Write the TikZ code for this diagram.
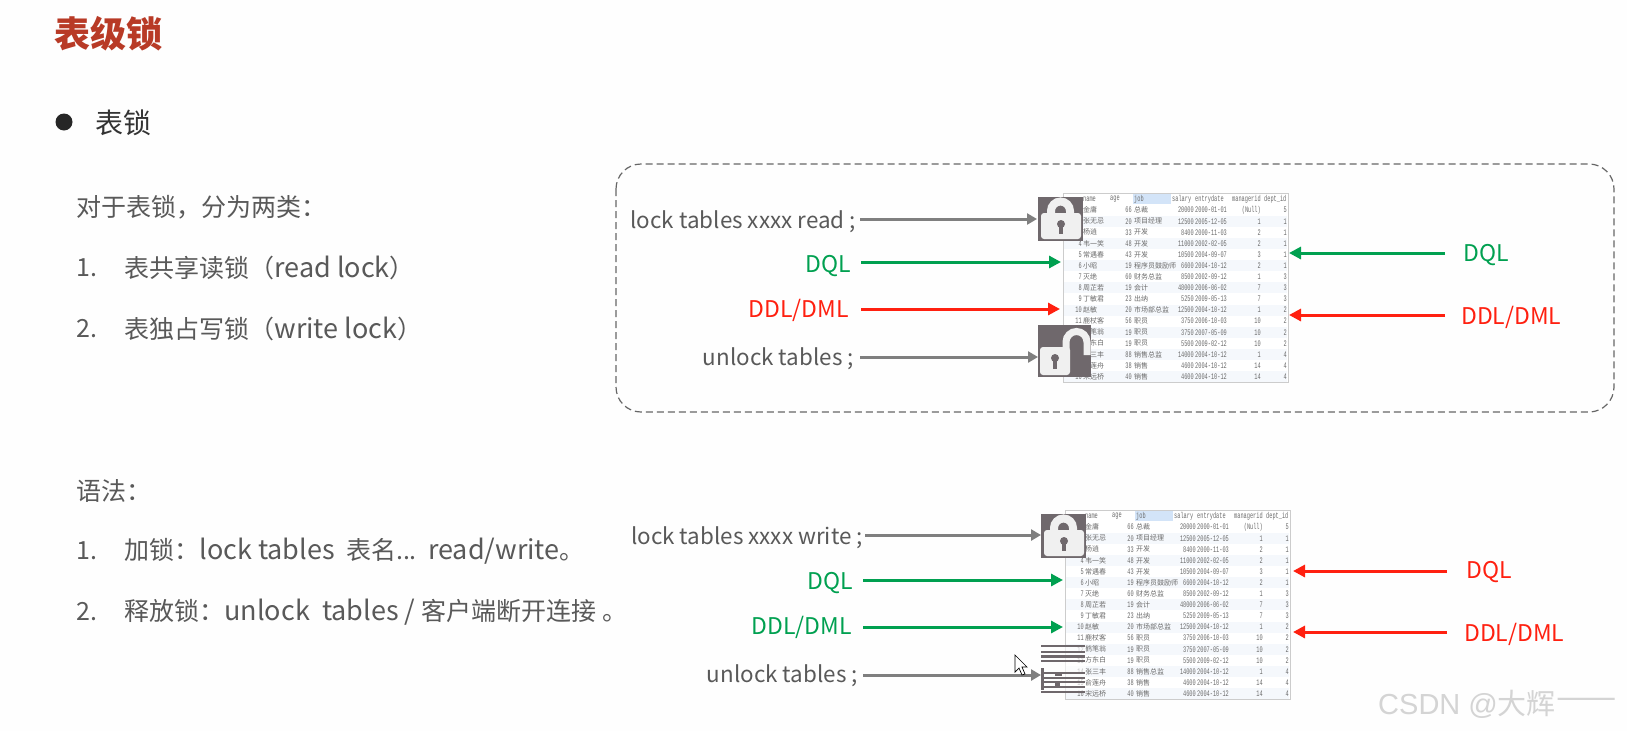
\documentclass[tikz,border=0pt]{standalone}
\usepackage{fontspec}
\setmainfont{Noto Sans CJK SC}
\newfontfamily\cellfont[FakeStretch=0.62]{Liberation Mono}
\newfontfamily\markfont{Liberation Sans}
\usetikzlibrary{arrows.meta, positioning}
\definecolor{titlered}{HTML}{B83A26}
\definecolor{bodygray}{HTML}{595959}
\definecolor{lockgray}{HTML}{6F686C}
\definecolor{arrowgray}{HTML}{7F7F7F}
\definecolor{arrowgreen}{HTML}{00A050}
\definecolor{arrowred}{HTML}{FF2010}
\definecolor{jobblue}{HTML}{D3E4F8}
\definecolor{stripeblue}{HTML}{F5F8FC}
\definecolor{pagewhite}{HTML}{FEFEFE}
\newcommand{\lat}[1]{{\fontsize{27}{28}\selectfont #1}}
\tikzset{
  title/.style={anchor=west, inner sep=0pt, text=titlered, font=\fontsize{36}{40}\selectfont\bfseries},
  body/.style={anchor=west, inner sep=0pt, text=bodygray, font=\fontsize{25}{28}\selectfont},
  head/.style={anchor=west, inner sep=0pt, text=black!80, font=\fontsize{28}{32}\selectfont},
  panel/.style={draw=black!60, dashed, line width=1.2pt, rounded corners=25pt, dash pattern=on 7pt off 4pt},
  tablebox/.style={draw=black!20, line width=1pt, fill=white, anchor=north west, inner sep=0pt, minimum width=225pt, minimum height=189pt},
  lockbox/.style={fill=lockgray, anchor=north west, inner sep=0pt},
  cmdlabel/.style={anchor=east, inner sep=0pt, text=bodygray, font=\fontsize{22.4}{27}\selectfont},
  greenlabel/.style={inner sep=0pt, text=arrowgreen, font=\fontsize{23}{27}\selectfont},
  redlabel/.style={inner sep=0pt, text=arrowred, font=\fontsize{23}{27}\selectfont},
  arrow/.style={-{Triangle[length=12pt, width=12pt]}, line width=3pt},
  cmdarrow/.style={arrow, draw=arrowgray, -{Triangle[length=10pt, width=11pt]}},
  greenarrow/.style={arrow, draw=arrowgreen},
  redarrow/.style={arrow, draw=arrowred},
  cell/.style={inner sep=0pt, text=black!58, font=\fontsize{8.5}{10}\cellfont},
  cjkcell/.style={inner sep=0pt, anchor=west, text=black!58, font=\fontsize{7}{9}\selectfont}
}
\newcommand{\emptable}[3]{
  \node[tablebox] (#1) at (#2,#3) {};
  \fill[jobblue] (#2+70,#3+1) rectangle (#2+108,#3+11);
  \foreach \hname/\hpos [count=\c] in {name/20,age/47,job/71,salary/109,entrydate/132,managerid/169,dept\_id/201}
    \node[cell, anchor=west] (#1h\c) at (#2+\hpos,#3+6) {\hname};
  \foreach \ename/\eage/\ejob/\esal/\edate/\emgr/\edept [count=\r] in {
    金庸/66/总裁/20000/2000-01-01/(Null)/5,
    张无忌/20/项目经理/12500/2005-12-05/1/1,
    杨逍/33/开发/8400/2000-11-03/2/1,
    韦一笑/48/开发/11000/2002-02-05/2/1,
    常遇春/43/开发/10500/2004-09-07/3/1,
    小昭/19/程序员鼓励师/6600/2004-10-12/2/1,
    灭绝/60/财务总监/8500/2002-09-12/1/3,
    周芷若/19/会计/48000/2006-06-02/7/3,
    丁敏君/23/出纳/5250/2009-05-13/7/3,
    赵敏/20/市场部总监/12500/2004-10-12/1/2,
    鹿杖客/56/职员/3750/2006-10-03/10/2,
    鹤笔翁/19/职员/3750/2007-05-09/10/2,
    方东白/19/职员/5500/2009-02-12/10/2,
    张三丰/88/销售总监/14000/2004-10-12/1/4,
    俞莲舟/38/销售/4600/2004-10-12/14/4,
    宋远桥/40/销售/4600/2004-10-12/14/4}{
    \pgfmathsetmacro{\ry}{#3+6+11.1*\r}
    \ifodd\r\else\fill[stripeblue] (#2+1,\ry-5.5) rectangle (#2+224,\ry+5.5);\fi
    \node[cell, anchor=east] (#1i\r) at (#2+19,\ry) {\r};
    \node[cjkcell] (#1n\r) at (#2+20,\ry) {\ename};
    \node[cell, anchor=east] (#1a\r) at (#2+69,\ry) {\eage};
    \node[cjkcell] (#1j\r) at (#2+71,\ry) {\ejob};
    \node[cell, anchor=east] (#1s\r) at (#2+131,\ry) {\esal};
    \node[cell, anchor=west] (#1d\r) at (#2+132,\ry) {\edate};
    \node[cell, anchor=east] (#1m\r) at (#2+198,\ry) {\emgr};
    \node[cell, anchor=east] (#1p\r) at (#2+224,\ry) {\edept};
  }
}
\newcommand{\lockshut}[3]{
  \node[lockbox, minimum width=45pt, minimum height=44pt] (#1) at (#2,#3) {};
  \draw[black!6, line width=8pt] (#2+13,#3+18) -- (#2+13,#3+14) arc (180:0:9.5pt) -- (#2+32,#3+18);
  \fill[black!6, rounded corners=3pt] (#2+3,#3+16) rectangle (#2+43,#3+42);
  \fill[lockgray] (#2+23,#3+27) circle (4pt);
  \fill[lockgray] (#2+21,#3+28) rectangle (#2+25,#3+37);
}
\newcommand{\lockopen}[3]{
  \node[lockbox, minimum width=53pt, minimum height=52pt] (#1) at (#2,#3) {};
  \draw[black!6, line width=7pt] (#2+28,#3+24) -- (#2+28,#3+17) arc (180:0:10.5pt) -- (#2+49,#3+30);
  \fill[black!6, rounded corners=3pt] (#2+2,#3+22) rectangle (#2+32,#3+50);
  \fill[lockgray] (#2+17,#3+33) circle (4pt);
  \fill[lockgray] (#2+15,#3+34) rectangle (#2+19,#3+44);
}
\begin{document}
\begin{tikzpicture}[x=1pt,y=-1pt]
\useasboundingbox (0,0) rectangle (1627,731);
\fill[pagewhite] (0,0) rectangle (1627,731);

\node[title] (pagetitle) at (54,34) {表级锁};
\node[circle, fill=black!85, inner sep=0pt, minimum size=17pt] (dot) at (64,122) {};
\node[head] (sub) at (95,123) {表锁};

\node[body] (intro) at (76,207) {对于表锁，分为两类：};
\node[body] (item1) at (76,268) {1.};
\node[body, right=27pt of item1.east, anchor=west] (item1t) {表共享读锁（\lat{read lock}）};
\node[body] (item2) at (76,329) {2.};
\node[body, right=27pt of item2.east, anchor=west] (item2t) {表独占写锁（\lat{write lock}）};
\node[body] (syntax) at (76,491) {语法：};
\node[body] (item3) at (76,551) {1.};
\node[body, right=27pt of item3.east, anchor=west] (item3t) {加锁：\lat{lock tables}\ \ 表名...\ \ \lat{read/write}。};
\node[body] (item4) at (76,612) {2.};
\node[body, right=27pt of item4.east, anchor=west] (item4t) {释放锁：\lat{unlock\ \ tables / }客户端断开连接 。};

\draw[panel] (616,164) rectangle (1614,412);

\emptable{readtable}{1063}{193}
\lockshut{readshut}{1038}{197}
\lockopen{readopen}{1038}{325}
\emptable{writetable}{1065}{510}
\lockshut{writeshut}{1041}{514}

\node[lockbox, fill=white, fill opacity=0.6, minimum width=45pt, minimum height=48pt] (writeopen) at (1041,645) {};
\foreach \by/\bw in {645/2,651/2,655/2.5,660/2,672/2,677/2,681/2,686/2,691/2}
  \fill[lockgray] (1041,\by) rectangle (1085,\by+\bw);
\fill[lockgray] (1041,668) rectangle (1044,690);
\fill[lockgray] (1055,672) rectangle (1062,676);
\fill[lockgray] (1055,682) rectangle (1060,687);

\node[cmdlabel] (readlock) at (856,222) {lock tables xxxx read ;};
\node[greenlabel, anchor=east] (readdql) at (851,266) {DQL};
\node[redlabel, anchor=east] (readddl) at (849,310) {DDL/DML};
\node[cmdlabel] (readunlock) at (854,359) {unlock tables ;};
\node[greenlabel, anchor=west] (readdqlr) at (1463,255) {DQL};
\node[redlabel, anchor=west] (readddlr) at (1461,317) {DDL/DML};

\node[cmdlabel] (writelock) at (863,538) {lock tables xxxx write ;};
\node[greenlabel, anchor=east] (writedql) at (853,583) {DQL};
\node[greenlabel, anchor=east] (writeddl) at (852,627) {DDL/DML};
\node[cmdlabel] (writeunlock) at (858,676) {unlock tables ;};
\node[redlabel, anchor=west] (writedqlr) at (1466,572) {DQL};
\node[redlabel, anchor=west] (writeddlr) at (1464,634) {DDL/DML};

\coordinate (a1) at (1061,262);
\coordinate (a2) at (1060,309);
\coordinate (a3) at (1063,580);
\coordinate (a4) at (1063,627);
\coordinate (a5) at (1289,253);
\coordinate (a6) at (1289,315);
\coordinate (a7) at (1293,571);
\coordinate (a8) at (1293,632);
\coordinate (b1) at (1037,219);
\coordinate (b2) at (1038,357);
\coordinate (b3) at (1041,535);
\coordinate (b4) at (1041,675);

\draw[cmdarrow] ([xshift=4pt]readlock.east |- b1) -- (b1);
\draw[greenarrow] ([xshift=10pt]readdql.east |- a1) -- (a1);
\draw[redarrow] ([xshift=12pt]readddl.east |- a2) -- (a2);
\draw[cmdarrow] ([xshift=6pt]readunlock.east |- b2) -- (b2);
\draw[greenarrow] ([xshift=-18pt]readdqlr.west |- a5) -- (a5);
\draw[redarrow] ([xshift=-16pt]readddlr.west |- a6) -- (a6);

\draw[cmdarrow] ([xshift=2pt]writelock.east |- b3) -- (b3);
\draw[greenarrow] ([xshift=10pt]writedql.east |- a3) -- (a3);
\draw[greenarrow] ([xshift=11pt]writeddl.east |- a4) -- (a4);
\draw[cmdarrow] ([xshift=5pt]writeunlock.east |- b4) -- (b4);
\draw[redarrow] ([xshift=-19pt]writedqlr.west |- a7) -- (a7);
\draw[redarrow] ([xshift=-17pt]writeddlr.west |- a8) -- (a8);

\draw[fill=white, line width=0.7pt] (1015,655) -- (1015,672) -- (1019,668) -- (1022,675) -- (1025,674) -- (1022,667) -- (1027,667) -- cycle;

\node[anchor=west, inner sep=0pt, text=black!17, font=\fontsize{29}{32}\markfont] (mark) at (1378,704) {CSDN @{\rmfamily 大辉}};
\node[anchor=west, inner sep=0pt, text=black!17, font=\fontsize{36}{36}\selectfont] (markline) at (mark.east) {——};
\end{tikzpicture}
\end{document}
